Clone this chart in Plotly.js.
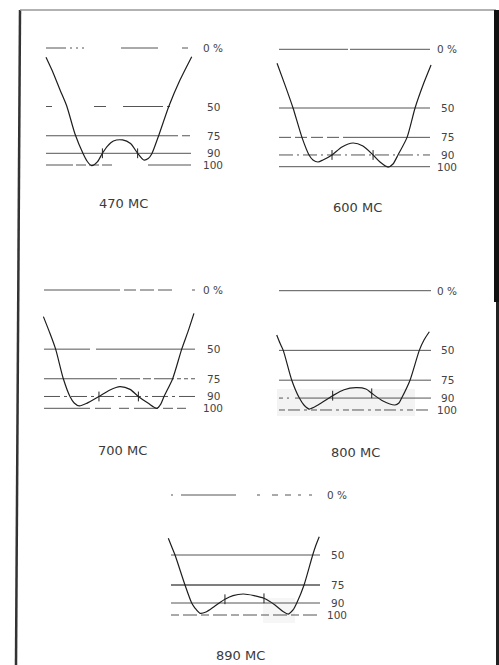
<!DOCTYPE html>
<html><head><meta charset="utf-8">
<script src="https://cdn.plot.ly/plotly-3.0.1.min.js"></script>
<style>html,body{margin:0;padding:0;background:#fff;}#chart{width:499px;height:665px;}</style>
</head><body><div id="chart"></div>
<script>
// ---------- DATA ----------
const levels = [0, 50, 75, 90, 100];
const levelLabels = ['0 %', '50', '75', '90', '100'];
const panelTitles = ['470 MC', '600 MC', '700 MC', '800 MC', '890 MC'];

// response curves: x = relative frequency (0..100 across the reference lines), y = level (%)
const x470 = [0,5.1,9.7,14.3,20,25.7,28.5,31.5,35.4,38.9,42.4,46.5,52.8,58.3,63.2,67.4,70.5,72.9,78.1,84.8,92.4,100.5];
const y470 = [8,21.7,35.9,49.6,73.5,90.6,97,100.6,97.4,90,83.8,79.5,78.6,81.7,90,95.7,94.5,90.6,73.5,49.6,27.4,7.4];
const t470x = [38.9, 63.2];
const t470y = [90, 90];

const x600 = [-1.3,4.0,9.3,15.2,19.9,22.5,25.8,29.1,35.1,41.7,49.0,55.6,62.3,66.9,72.2,75.5,78.8,84.8,90.1,95.4,100.7];
const y600 = [11.9,30.5,50,75,90,94.3,96,94.3,90,83.2,79.8,82.4,90,96,100.3,97.7,90,75,50,30.4,13.4];
const t600x = [35.1, 62.3];
const t600y = [90, 90];

const x700 = [-0.4,3.5,7.7,12.8,17.2,20,23.4,28.3,36.4,43.7,50.3,57,62.5,69.1,74.8,77.5,79.5,85.2,91.2,95.4,99.3];
const y700 = [22.5,35.2,50,75,90,95.5,98,95.8,90,84.5,81.7,84,90,95.8,100,96,90,75,50,35,19.7];
const t700x = [36.4, 62.5];
const t700y = [90, 90];

const x800 = [-1.5,0.7,2.8,8.4,13.4,16.4,19.9,25.7,35.3,42.8,50.7,57.2,61,68.4,76.3,78.9,80.7,86.2,92.3,95.4,98.9];
const y800 = [37.1,44.1,50,75,90,95.8,99.2,95.8,88,83,81.3,82.4,86,92.5,95.8,94.1,90,75,50,41.3,34.4];
const t800x = [35.3, 61];
const t800y = [88, 86];

const x890 = [-1.8,0,2.7,9.4,13.9,16.1,19.5,23.5,29.5,36.2,41.6,48.5,55.7,62.4,69.8,75.2,78.7,81.9,84.4,89.3,95.1,97.3,99.5];
const y890 = [36.1,41.7,50,75,90,94.2,98.6,97.5,92.5,86.9,83.8,82.5,83.8,86.1,91.7,97.1,99.2,95.8,90,75,50,41.7,34.8];
const t890x = [36.2, 62.4];
const t890y = [86.9, 86.1];

// ---------- LAYOUT / STYLE ----------
const W = 499, H = 665;
const curves = [[x470,y470,t470x,t470y],[x600,y600,t600x,t600y],[x700,y700,t700x,t700y],[x800,y800,t800x,t800y],[x890,y890,t890x,t890y]];
// pixel geometry of each panel: line start/end, y of 0 % and 100 %
const geom = [
  {L:46, R:191, y0:48,    y100:165,   lab:22, tx:123, ty:203},
  {L:279,R:430, y0:49.3,  y100:166.7, lab:17, tx:357, ty:207},
  {L:44, R:195, y0:290,   y100:408.3, lab:18, tx:122, ty:450},
  {L:279,R:431, y0:290.7, y100:410,   lab:16, tx:355, ty:452},
  {L:171,R:320, y0:495,   y100:615,   lab:17, tx:240, ty:655}
];
const dashes = [
  ['20px,4px,2px,4px,2px,4px,2px,37px,37px,24px,6px,300px','6px,42px,12px,17px,40px,4px,3px,300px','132px,4px,8px,300px','solid','27px,3px,10px,3px,10px,3px,10px,36px,44px,300px'],
  ['69px,2px,300px','solid','12px,4px,12px,4px,12px,4px,12px,4px,300px','14px,4px,2px,4px','solid'],
  ['76px,4px,12px,4px,14px,4px,14px,20px,3px,300px','46px,6px,300px','73px,3px,20px,3px,8px,3px,20px,3px,4px,3px,4px,3px,4px,300px','16px,4px,3px,4px','46px,5px,16px,8px,10px,5px,24px,5px,10px,4px,9px,300px'],
  ['solid','solid','solid','4px,4px,2px,6px,300px','6px,3px,12px,4px,3px,4px'],
  ['2px,8px,55px,21px,3px,12px,6px,7px,6px,7px,3px,8px,3px,8px,6px,300px','solid','solid','solid','8px,4px,14px,4px']
];
const widths = [[1,1,1,1,1.2],[1,1,1,1,1],[1,1,1.1,1,1],[1,1,1,1,1],[1,1,1.7,1,1]];

const px = v => v / W;
const py = v => 1 - v / H;

const traces = [];
const layout = {
  width: W, height: H, margin: {l:0, r:0, t:0, b:0},
  paper_bgcolor: '#fff', plot_bgcolor: 'rgba(0,0,0,0)',
  showlegend: false, annotations: [], shapes: [],
  font: {family: 'DejaVu Sans, sans-serif', color: '#333'}
};

geom.forEach((g, i) => {
  const k = i === 0 ? '' : String(i + 1);
  const xa = 'x' + k, ya = 'y' + k;
  const w = g.R - g.L, s = g.y100 - g.y0;
  layout['xaxis' + k] = {domain: [px(g.L - 0.05 * w), px(g.R + 0.05 * w)], range: [-5, 105],
    visible: false, fixedrange: true};
  layout['yaxis' + k] = {domain: [py(g.y100 + 0.1 * s), py(g.y0 - 0.1 * s)], range: [110, -10],
    visible: false, fixedrange: true};
  levels.forEach((lv, j) => {
    traces.push({type: 'scatter', mode: 'lines', x: [0, 100], y: [lv, lv], xaxis: xa, yaxis: ya,
      line: {color: '#555', width: widths[i][j], dash: dashes[i][j]}, hoverinfo: 'skip'});
    layout.annotations.push({xref: xa, yref: ya, x: 100, y: lv, text: levelLabels[j], showarrow: false,
      xanchor: 'center', yanchor: 'middle', xshift: g.lab, font: {size: 10.5, color: '#444'}});
  });
  const c = curves[i];
  traces.push({type: 'scatter', mode: 'lines', x: c[0], y: c[1], xaxis: xa, yaxis: ya, cliponaxis: false,
    line: {color: '#1e1e1e', width: 1.2, shape: 'spline', smoothing: 0.7}, hoverinfo: 'skip'});
  traces.push({type: 'scatter', mode: 'markers', x: c[2], y: c[3], xaxis: xa, yaxis: ya, cliponaxis: false,
    marker: {symbol: 'line-ns', size: 7, line: {width: 1, color: '#222'}}, hoverinfo: 'skip'});
  layout.annotations.push({xref: 'paper', yref: 'paper', x: px(g.tx), y: py(g.ty), text: panelTitles[i],
    showarrow: false, xanchor: 'center', yanchor: 'middle', font: {size: 13, color: '#3a3a3a'}});
});

// scan patches
layout.shapes.push({type:'rect', xref:'paper', yref:'paper', x0:px(277), x1:px(415), y0:py(416), y1:py(389), fillcolor:'#f3f3f3', line:{width:0}, layer:'below'});
layout.shapes.push({type:'rect', xref:'paper', yref:'paper', x0:px(263), x1:px(295), y0:py(623), y1:py(598), fillcolor:'#f6f6f6', line:{width:0}, layer:'below'});
// page frame
layout.shapes.push({type:'line', xref:'paper', yref:'paper', x0:px(20), y0:py(10), x1:px(16), y1:py(665), line:{color:'#333', width:2.5}});
layout.shapes.push({type:'line', xref:'paper', yref:'paper', x0:px(20), y0:py(10), x1:px(496), y1:py(10), line:{color:'#999', width:1.5}});
layout.shapes.push({type:'rect', xref:'paper', yref:'paper', x0:px(494), x1:px(499), y0:py(302), y1:py(10), fillcolor:'#111', line:{width:0}});
layout.shapes.push({type:'rect', xref:'paper', yref:'paper', x0:px(496), x1:px(499), y0:py(665), y1:py(302), fillcolor:'#222', line:{width:0}});

Plotly.newPlot('chart', traces, layout, {staticPlot: true, displayModeBar: false});
</script>
</body></html>
